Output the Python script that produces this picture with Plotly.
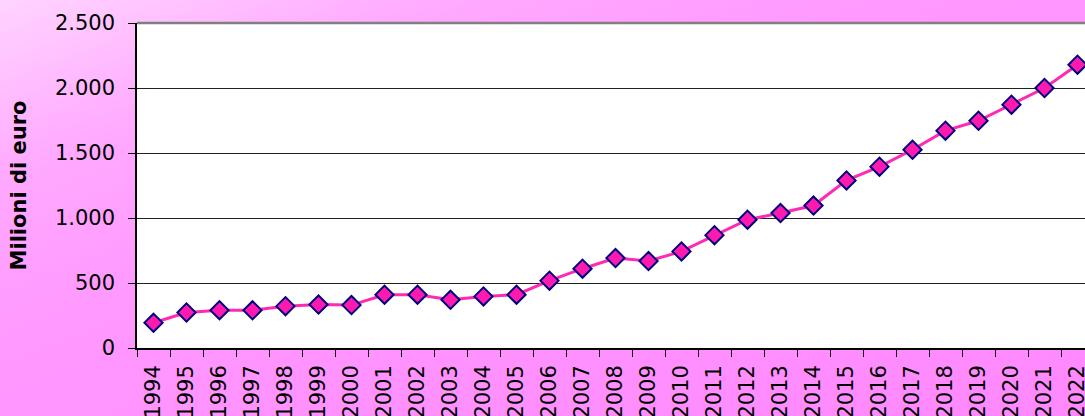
import base64
import plotly.graph_objects as go

years = [str(y) for y in range(1994, 2023)]
values = [194, 273, 291, 290, 322, 334, 330, 410, 410, 371, 397, 410, 518, 610,
          692, 669, 743, 868, 987, 1038, 1096, 1289, 1395, 1525, 1672, 1748,
          1872, 2000, 2179]
y_ticks = [0, 500, 1000, 1500, 2000, 2500]
y_title = "Milioni di euro"

W, H = 1085, 416
ML, MT, MB, MR = 137, 23, 68, 0
PW, PH = W - ML - MR, H - MT - MB

svg = (
    f'<svg xmlns="http://www.w3.org/2000/svg" width="{W}" height="{H}" '
    f'viewBox="0 0 {W} {H}" preserveAspectRatio="none"><defs>'
    '<linearGradient id="g" x1="0" y1="0" x2="1" y2="1">'
    '<stop offset="0" stop-color="#FFD4FF"/>'
    '<stop offset="0.22" stop-color="#FFA8FF"/>'
    '<stop offset="0.42" stop-color="#FF98FF"/>'
    '<stop offset="1" stop-color="#FF88FF"/>'
    '</linearGradient></defs>'
    f'<rect width="{W}" height="{H}" fill="url(#g)"/></svg>'
)
bg_uri = "data:image/svg+xml;base64," + base64.b64encode(svg.encode()).decode()

fig = go.Figure()
fig.add_trace(go.Scatter(
    x=years, y=values, mode="lines+markers",
    line=dict(color="#FF2AB4", width=3),
    marker=dict(symbol="diamond", size=14, color="#FF1AAF",
                line=dict(color="#000080", width=2)),
    cliponaxis=False, showlegend=False,
))

font = dict(family="DejaVu Sans, Verdana, sans-serif", color="#000000")

fig.update_layout(
    width=W, height=H,
    margin=dict(l=ML, r=MR, t=MT, b=MB, pad=0),
    paper_bgcolor="#FF99FF",
    plot_bgcolor="#FFFFFF",
    font=dict(size=21, **font),
    separators=",.",
    showlegend=False,
    images=[dict(source=bg_uri, xref="paper", yref="paper",
                 x=-ML / PW, y=1 + MT / PH, sizex=W / PW, sizey=H / PH,
                 xanchor="left", yanchor="top", sizing="stretch",
                 layer="below")],
    shapes=[
        dict(type="rect", xref="paper", yref="paper", x0=0, x1=1, y0=0, y1=1,
             fillcolor="#FFFFFF", line=dict(width=0), layer="below"),
        dict(type="line", xref="paper", yref="paper", x0=0, x1=1, y0=1, y1=1,
             line=dict(color="#808080", width=2.5), layer="above"),
    ],
)

fig.update_xaxes(
    type="category", range=[-0.5, -0.5 + PW / 33.0],
    tickson="boundaries", ticks="outside", ticklen=7, tickcolor="#000000",
    tickwidth=1, tickangle=-90, ticklabelstandoff=7,
    showline=True, linecolor="#000000", linewidth=1.5,
    showgrid=False, automargin=False, fixedrange=True,
    tickfont=dict(size=21, **font),
)
fig.update_yaxes(
    range=[0, 2500], tickvals=y_ticks, tickformat=",d",
    ticks="outside", ticklen=7, tickcolor="#000000", tickwidth=1,
    ticklabelstandoff=9,
    showline=True, linecolor="#000000", linewidth=1.5,
    showgrid=True, gridcolor="#222222", gridwidth=1,
    zeroline=False, automargin=False, fixedrange=True,
    tickfont=dict(size=21, **font),
    title=dict(text="<b>" + y_title + "</b>", standoff=23,
               font=dict(size=21, **font)),
)

fig.write_html(
    "out.html",
    config={"displayModeBar": False},
    post_script="document.body.style.margin='0';document.body.style.overflow='hidden';",
)
